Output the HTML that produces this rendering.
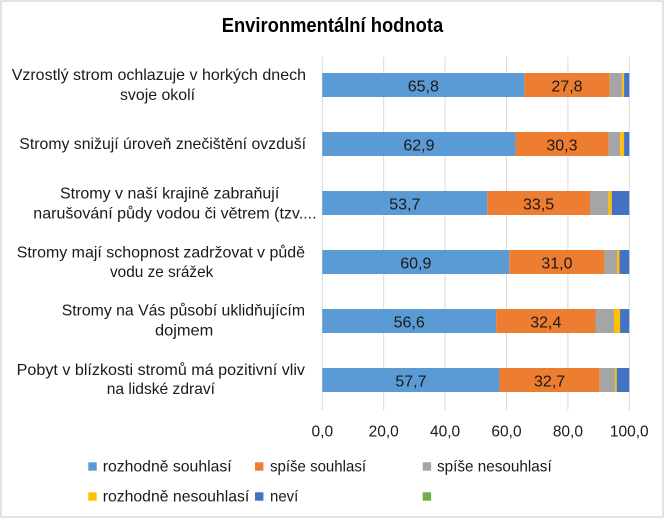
<!DOCTYPE html>
<html>
<head>
<meta charset="utf-8">
<style>
html,body{margin:0;padding:0;background:#fff;}
svg{display:block;}
text{font-family:"Liberation Sans",sans-serif;fill:#1a1a1a;}
</style>
</head>
<body>
<svg width="666" height="519" viewBox="0 0 666 519" xmlns="http://www.w3.org/2000/svg">
<rect x="0" y="0" width="666" height="519" fill="#fff"/>
<rect x="1" y="1" width="662" height="516" fill="#fff" stroke="#d9d9d9" stroke-width="1.5"/>

<!-- title -->
<text x="221.7" y="32" font-size="20" font-weight="bold" textLength="221.5" lengthAdjust="spacingAndGlyphs" style="fill:#000">Environmentální hodnota</text>

<!-- gridlines -->
<g stroke="#d9d9d9" stroke-width="1">
<line x1="322.3" y1="57" x2="322.3" y2="410"/>
<line x1="383.7" y1="57" x2="383.7" y2="410"/>
<line x1="445.1" y1="57" x2="445.1" y2="410"/>
<line x1="506.5" y1="57" x2="506.5" y2="410"/>
<line x1="567.9" y1="57" x2="567.9" y2="410"/>
<line x1="629.3" y1="57" x2="629.3" y2="410"/>
</g>

<!-- bars -->
<g>
<!-- bar 1 -->
<rect x="322.3" y="73" width="202.0" height="24" fill="#5b9bd5"/>
<rect x="524.3" y="73" width="85.4" height="24" fill="#ed7d31"/>
<rect x="609.7" y="73" width="12.5" height="24" fill="#a5a5a5"/>
<rect x="622.2" y="73" width="1.9" height="24" fill="#ffc000"/>
<rect x="624.1" y="73" width="5.2" height="24" fill="#4472c4"/>
<!-- bar 2 -->
<rect x="322.3" y="132" width="193.1" height="24" fill="#5b9bd5"/>
<rect x="515.4" y="132" width="93.0" height="24" fill="#ed7d31"/>
<rect x="608.4" y="132" width="11.7" height="24" fill="#a5a5a5"/>
<rect x="620.1" y="132" width="4.0" height="24" fill="#ffc000"/>
<rect x="624.1" y="132" width="5.2" height="24" fill="#4472c4"/>
<!-- bar 3 -->
<rect x="322.3" y="191" width="164.9" height="24" fill="#5b9bd5"/>
<rect x="487.2" y="191" width="102.8" height="24" fill="#ed7d31"/>
<rect x="590.0" y="191" width="18.4" height="24" fill="#a5a5a5"/>
<rect x="608.4" y="191" width="3.4" height="24" fill="#ffc000"/>
<rect x="611.8" y="191" width="17.5" height="24" fill="#4472c4"/>
<!-- bar 4 -->
<rect x="322.3" y="250" width="187.0" height="24" fill="#5b9bd5"/>
<rect x="509.3" y="250" width="95.1" height="24" fill="#ed7d31"/>
<rect x="604.4" y="250" width="12.6" height="24" fill="#a5a5a5"/>
<rect x="617.0" y="250" width="2.5" height="24" fill="#ffc000"/>
<rect x="619.5" y="250" width="9.8" height="24" fill="#4472c4"/>
<!-- bar 5 -->
<rect x="322.3" y="309" width="173.8" height="24" fill="#5b9bd5"/>
<rect x="496.1" y="309" width="99.4" height="24" fill="#ed7d31"/>
<rect x="595.5" y="309" width="18.5" height="24" fill="#a5a5a5"/>
<rect x="614.0" y="309" width="6.1" height="24" fill="#ffc000"/>
<rect x="620.1" y="309" width="9.2" height="24" fill="#4472c4"/>
<!-- bar 6 -->
<rect x="322.3" y="368" width="177.1" height="24" fill="#5b9bd5"/>
<rect x="499.4" y="368" width="100.4" height="24" fill="#ed7d31"/>
<rect x="599.8" y="368" width="15.1" height="24" fill="#a5a5a5"/>
<rect x="614.9" y="368" width="1.8" height="24" fill="#ffc000"/>
<rect x="616.7" y="368" width="12.6" height="24" fill="#4472c4"/>
</g>

<!-- data labels -->
<g font-size="16" text-anchor="middle">
<text x="423.3" y="91.5">65,8</text>
<text x="567.0" y="91.5">27,8</text>
<text x="418.9" y="150.5">62,9</text>
<text x="561.9" y="150.5">30,3</text>
<text x="404.8" y="209.5">53,7</text>
<text x="538.6" y="209.5">33,5</text>
<text x="415.8" y="268.5">60,9</text>
<text x="556.9" y="268.5">31,0</text>
<text x="409.2" y="327.5">56,6</text>
<text x="545.8" y="327.5">32,4</text>
<text x="410.9" y="386.5">57,7</text>
<text x="549.6" y="386.5">32,7</text>
</g>

<!-- category labels -->
<g font-size="16" lengthAdjust="spacingAndGlyphs">
<text x="11.7" y="80" textLength="294.3" lengthAdjust="spacingAndGlyphs">Vzrostlý strom ochlazuje v horkých dnech</text>
<text x="120" y="100" textLength="75" lengthAdjust="spacingAndGlyphs">svoje okolí</text>
<text x="19.3" y="149" textLength="286.7" lengthAdjust="spacingAndGlyphs">Stromy snižují úroveň znečištění ovzduší</text>
<text x="60" y="198.3" textLength="219.3" lengthAdjust="spacingAndGlyphs">Stromy v naší krajině zabraňují</text>
<text x="33.3" y="218.3" textLength="283.3" lengthAdjust="spacingAndGlyphs">narušování půdy vodou či větrem (tzv....</text>
<text x="16.7" y="257.3" textLength="288.3" lengthAdjust="spacingAndGlyphs">Stromy mají schopnost zadržovat v půdě</text>
<text x="110" y="277" textLength="103.3" lengthAdjust="spacingAndGlyphs">vodu ze srážek</text>
<text x="61.7" y="315.5" textLength="243.3" lengthAdjust="spacingAndGlyphs">Stromy na Vás působí uklidňujícím</text>
<text x="155" y="335.5" textLength="58.3" lengthAdjust="spacingAndGlyphs">dojmem</text>
<text x="16.7" y="375" textLength="288.3" lengthAdjust="spacingAndGlyphs">Pobyt v blízkosti stromů má pozitivní vliv</text>
<text x="106.7" y="394" textLength="108.3" lengthAdjust="spacingAndGlyphs">na lidské zdraví</text>
</g>

<!-- x tick labels -->
<g font-size="15.5" text-anchor="middle">
<text x="322.3" y="436.5">0,0</text>
<text x="383.7" y="436.5">20,0</text>
<text x="445.1" y="436.5">40,0</text>
<text x="506.5" y="436.5">60,0</text>
<text x="567.9" y="436.5">80,0</text>
<text x="629.3" y="436.5">100,0</text>
</g>

<!-- legend -->
<rect x="88.3" y="462.3" width="8.4" height="8.4" fill="#5b9bd5"/>
<rect x="255" y="462.3" width="8.4" height="8.4" fill="#ed7d31"/>
<rect x="422.7" y="462.3" width="8.4" height="8.4" fill="#a5a5a5"/>
<rect x="88.3" y="492.3" width="8.4" height="8.4" fill="#ffc000"/>
<rect x="255" y="492.3" width="8.4" height="8.4" fill="#4472c4"/>
<rect x="422.7" y="492.3" width="8.4" height="8.4" fill="#70ad47"/>
<g font-size="16">
<text x="102.7" y="471.5" textLength="129" lengthAdjust="spacingAndGlyphs">rozhodně souhlasí</text>
<text x="270" y="471.5" textLength="96" lengthAdjust="spacingAndGlyphs">spíše souhlasí</text>
<text x="437" y="471.5" textLength="114.7" lengthAdjust="spacingAndGlyphs">spíše nesouhlasí</text>
<text x="102.7" y="501.5" textLength="146.6" lengthAdjust="spacingAndGlyphs">rozhodně nesouhlasí</text>
<text x="270" y="501.5" textLength="28.3" lengthAdjust="spacingAndGlyphs">neví</text>
</g>
</svg>
</body>
</html>
